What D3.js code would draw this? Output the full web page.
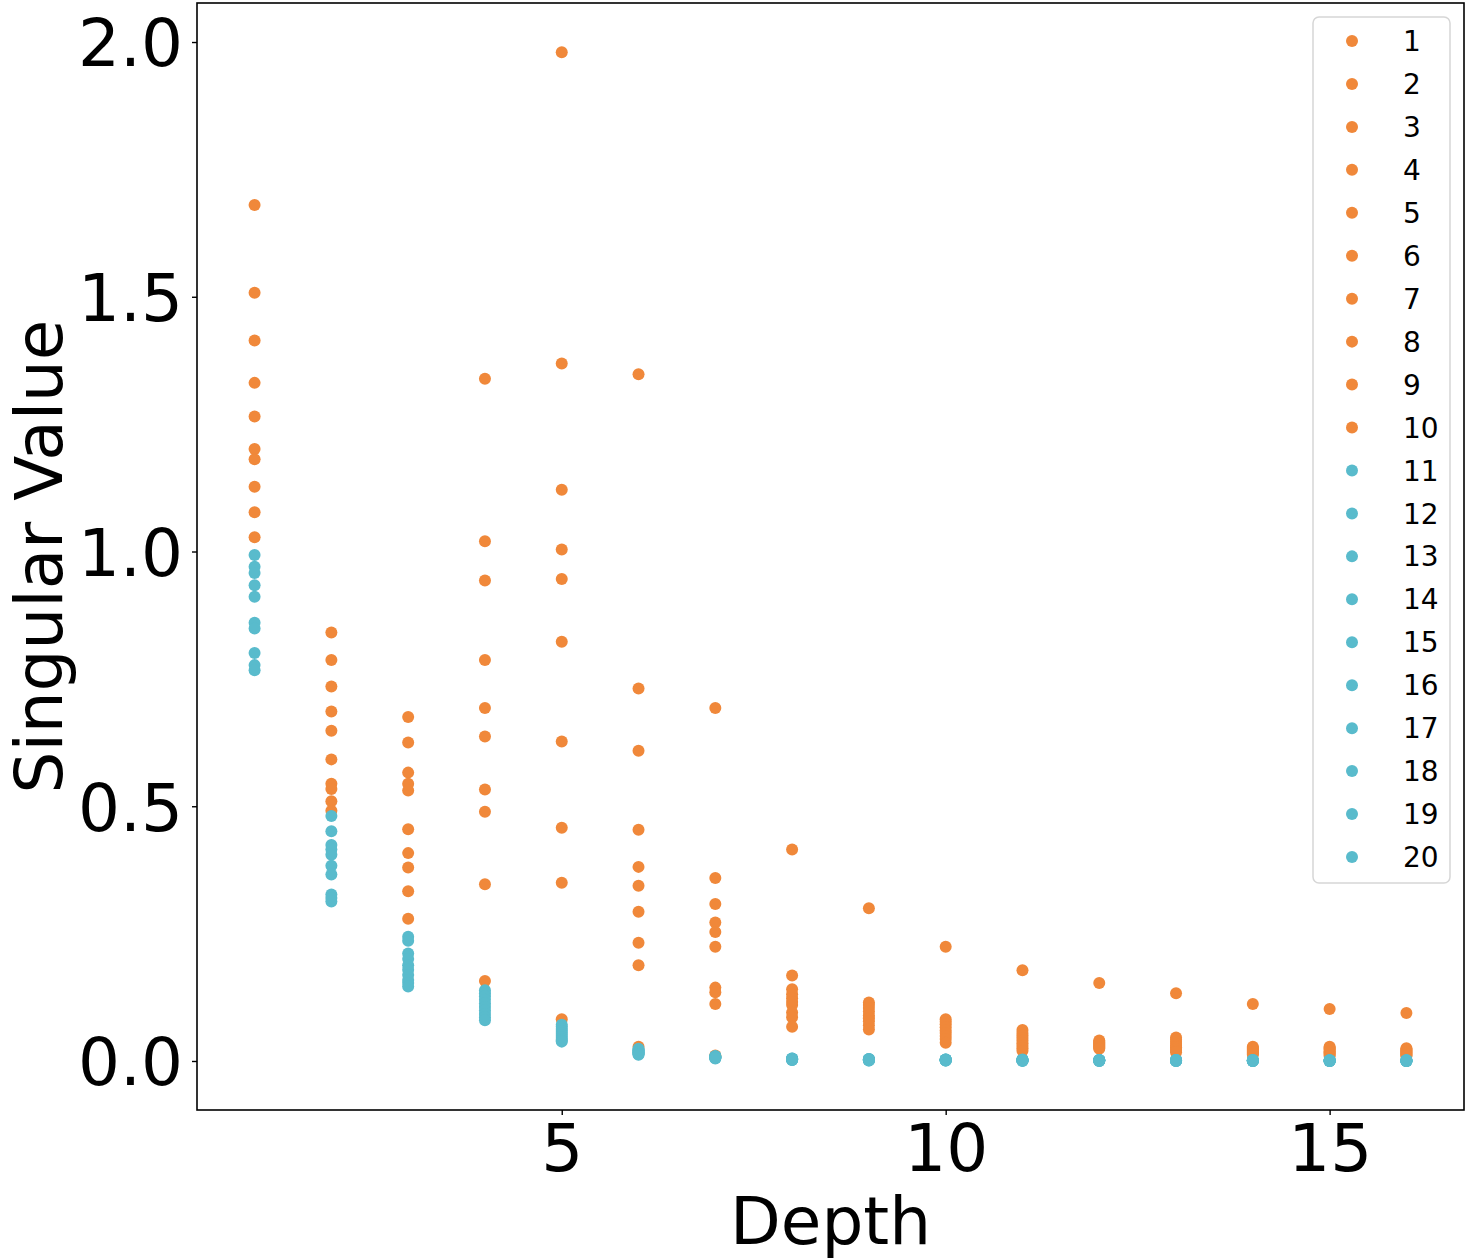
<!DOCTYPE html>
<html>
<head>
<meta charset="utf-8">
<script src="https://cdn.jsdelivr.net/npm/d3@7/dist/d3.min.js"></script>
<style>
  html, body { margin: 0; padding: 0; background: #ffffff; }
  svg { display: block; font-family: "DejaVu Sans", sans-serif; }
</style>
</head>
<body>
<svg id="chart" width="1470" height="1260"></svg>
<script>
// ---- data: singular values (descending, index 1..20) at each depth ----
const depths = [1, 2, 3, 4, 5, 6, 7, 8, 9, 10, 11, 12, 13, 14, 15, 16];
const seriesLabels = ["1","2","3","4","5","6","7","8","9","10","11","12","13","14","15","16","17","18","19","20"];
const depth01 = [1.680, 1.508, 1.414, 1.331, 1.265, 1.201, 1.181, 1.127, 1.077, 1.028, 0.993, 0.970, 0.958, 0.934, 0.911, 0.860, 0.849, 0.801, 0.777, 0.767];
const depth02 = [0.841, 0.787, 0.735, 0.686, 0.648, 0.592, 0.544, 0.534, 0.510, 0.491, 0.481, 0.451, 0.424, 0.415, 0.405, 0.383, 0.366, 0.327, 0.320, 0.313];
const depth03 = [0.675, 0.625, 0.566, 0.544, 0.531, 0.455, 0.408, 0.380, 0.333, 0.279, 0.244, 0.236, 0.211, 0.200, 0.188, 0.179, 0.169, 0.159, 0.153, 0.146];
const depth04 = [1.339, 1.020, 0.943, 0.787, 0.693, 0.637, 0.533, 0.489, 0.347, 0.157, 0.139, 0.133, 0.127, 0.120, 0.113, 0.106, 0.099, 0.092, 0.086, 0.080];
const depth05 = [1.980, 1.369, 1.121, 1.004, 0.946, 0.823, 0.627, 0.458, 0.350, 0.082, 0.071, 0.067, 0.063, 0.059, 0.055, 0.051, 0.047, 0.043, 0.040, 0.038];
const depth06 = [1.348, 0.731, 0.609, 0.454, 0.381, 0.344, 0.293, 0.232, 0.188, 0.028, 0.024, 0.022, 0.021, 0.020, 0.018, 0.017, 0.016, 0.015, 0.013, 0.012];
const depth07 = [0.693, 0.359, 0.308, 0.272, 0.253, 0.224, 0.144, 0.135, 0.112, 0.011, 0.010, 0.009, 0.009, 0.008, 0.008, 0.007, 0.007, 0.006, 0.006, 0.005];
const depth08 = [0.415, 0.168, 0.141, 0.131, 0.123, 0.116, 0.110, 0.095, 0.086, 0.067, 0.005, 0.005, 0.004, 0.004, 0.004, 0.003, 0.003, 0.003, 0.002, 0.002];
const depth09 = [0.300, 0.115, 0.110, 0.104, 0.097, 0.090, 0.084, 0.078, 0.070, 0.062, 0.004, 0.004, 0.003, 0.003, 0.003, 0.002, 0.002, 0.002, 0.001, 0.001];
const depth10 = [0.224, 0.082, 0.077, 0.072, 0.066, 0.060, 0.055, 0.049, 0.043, 0.036, 0.003, 0.003, 0.003, 0.002, 0.002, 0.002, 0.002, 0.001, 0.001, 0.001];
const depth11 = [0.178, 0.061, 0.055, 0.050, 0.045, 0.040, 0.035, 0.030, 0.025, 0.020, 0.003, 0.002, 0.002, 0.002, 0.002, 0.001, 0.001, 0.001, 0.001, 0.000];
const depth12 = [0.153, 0.040, 0.038, 0.036, 0.034, 0.032, 0.030, 0.028, 0.026, 0.024, 0.002, 0.002, 0.002, 0.002, 0.001, 0.001, 0.001, 0.001, 0.000, 0.000];
const depth13 = [0.133, 0.046, 0.042, 0.038, 0.034, 0.030, 0.027, 0.024, 0.020, 0.017, 0.002, 0.002, 0.002, 0.001, 0.001, 0.001, 0.001, 0.000, 0.000, 0.000];
const depth14 = [0.112, 0.028, 0.026, 0.024, 0.022, 0.020, 0.018, 0.016, 0.014, 0.012, 0.002, 0.002, 0.001, 0.001, 0.001, 0.001, 0.000, 0.000, 0.000, 0.000];
const depth15 = [0.102, 0.028, 0.026, 0.024, 0.022, 0.019, 0.017, 0.015, 0.012, 0.010, 0.002, 0.001, 0.001, 0.001, 0.001, 0.000, 0.000, 0.000, 0.000, 0.000];
const depth16 = [0.094, 0.025, 0.023, 0.021, 0.019, 0.017, 0.015, 0.013, 0.011, 0.010, 0.002, 0.001, 0.001, 0.001, 0.000, 0.000, 0.000, 0.000, 0.000, 0.000];
const xTicks = [5, 10, 15];
const yTicks = [0.0, 0.5, 1.0, 1.5, 2.0];

const valuesByDepth = [depth01, depth02, depth03, depth04, depth05, depth06, depth07, depth08,
                       depth09, depth10, depth11, depth12, depth13, depth14, depth15, depth16];

// series k (index 1..20) -> points over depths
const series = seriesLabels.map((lab, k) => ({
  label: lab,
  group: k < 10 ? "top" : "tail",
  points: depths.map((d, i) => ({ depth: d, value: valuesByDepth[i][k] }))
}));

const ORANGE = "#F0883A";
const TEAL = "#59BBCC";
const color = g => g === "top" ? ORANGE : TEAL;

// ---- layout ----
const svg = d3.select("#chart");
const plot = { left: 197, right: 1464, top: 3, bottom: 1110 };

const x = d3.scaleLinear().domain([0.25, 16.75]).range([plot.left, plot.right]);
const y = d3.scaleLinear().domain([-0.0962, 2.0766]).range([plot.bottom, plot.top]);

// points (drawn series by series, later series on top)
const gPts = svg.append("g");
series.forEach(s => {
  gPts.append("g")
    .selectAll("circle")
    .data(s.points)
    .join("circle")
    .attr("cx", p => x(p.depth))
    .attr("cy", p => y(p.value))
    .attr("r", 6)
    .attr("fill", color(s.group));
});

// axes
const tickFont = 66;
const yAxis = d3.axisLeft(y).tickValues(yTicks).tickFormat(d3.format(".1f")).tickSize(5).tickPadding(9);
const xAxis = d3.axisBottom(x).tickValues(xTicks).tickFormat(d3.format("d")).tickSize(5).tickPadding(8);

const ya = svg.append("g").attr("transform", `translate(${plot.left},0)`).call(yAxis);
const xa = svg.append("g").attr("transform", `translate(0,${plot.bottom})`).call(xAxis);
[ya, xa].forEach(a => {
  a.select(".domain").remove();
  a.selectAll(".tick line").attr("stroke", "#000").attr("stroke-width", 1.4);
  a.selectAll(".tick text").attr("fill", "#000")
    .style("font-family", "'DejaVu Sans', sans-serif")
    .style("font-size", tickFont + "px");
});
ya.selectAll(".tick text").attr("dy", "0.36em");
xa.selectAll(".tick text").attr("dy", "0.72em");

// frame
svg.append("rect")
  .attr("x", plot.left).attr("y", plot.top)
  .attr("width", plot.right - plot.left).attr("height", plot.bottom - plot.top)
  .attr("fill", "none").attr("stroke", "#000").attr("stroke-width", 1.6);

// axis labels
svg.append("text")
  .attr("x", (plot.left + plot.right) / 2).attr("y", 1244)
  .attr("text-anchor", "middle")
  .style("font-size", "66px").attr("fill", "#000")
  .text("Depth");

svg.append("text")
  .attr("transform", `translate(62,${(plot.top + plot.bottom) / 2}) rotate(-90)`)
  .attr("text-anchor", "middle")
  .style("font-size", "66px").attr("fill", "#000")
  .text("Singular Value");

// legend
const legend = svg.append("g");
legend.append("rect")
  .attr("x", 1313).attr("y", 17).attr("width", 137).attr("height", 866)
  .attr("rx", 6).attr("ry", 6)
  .attr("fill", "#fff").attr("fill-opacity", 0.8)
  .attr("stroke", "#d6d6d6").attr("stroke-width", 1.5);

const rowY = d3.scaleLinear().domain([0, 19]).range([41, 857]);
const items = legend.selectAll("g.item").data(series).join("g").attr("class", "item")
  .attr("transform", (s, i) => `translate(0,${rowY(i)})`);
items.append("circle").attr("cx", 1352).attr("cy", 0).attr("r", 6).attr("fill", s => color(s.group));
items.append("text").attr("x", 1403).attr("y", 0).attr("dy", "0.36em")
  .style("font-size", "28px").attr("fill", "#000")
  .text(s => s.label);
</script>
</body>
</html>
